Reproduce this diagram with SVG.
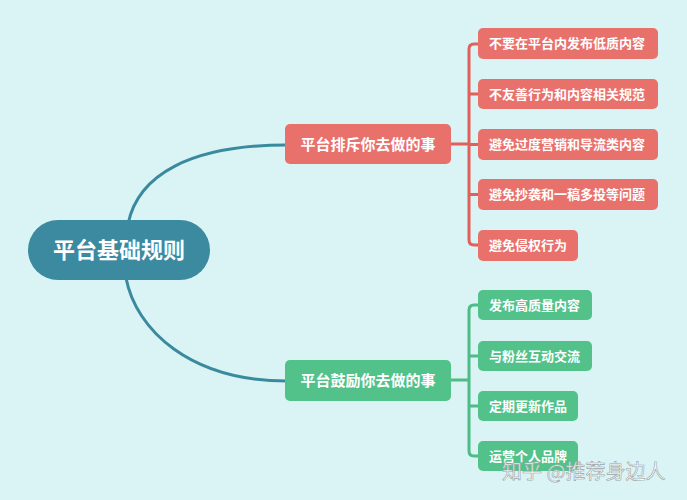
<svg xmlns="http://www.w3.org/2000/svg" width="687" height="500" viewBox="0 0 687 500">
<style>
text{font-family:"Noto Sans CJK SC","Noto Sans",sans-serif;font-weight:bold;fill:#fff}
.root{font-size:22px}
.p{font-size:15px}
.c{font-size:13px}
.red{fill:#e9716c}
.grn{fill:#52c28a}
.lr{fill:none;stroke:#e35f5a;stroke-width:3;stroke-linejoin:round}
.lg{fill:none;stroke:#4dbc86;stroke-width:3;stroke-linejoin:round}
.lt{fill:none;stroke:#3a8a9e;stroke-width:3}
.wm{font-size:20px;font-weight:normal;fill:#ffffff;fill-opacity:0.85;stroke:#9aa4a8;stroke-width:0.6}
</style>
<rect width="687" height="500" fill="#daf3f5"/>
<g id="connectors">
<path class="lt" d="M128 224 C138 175,190 145,287 145"/>
<path class="lt" d="M126 278 C136 330,190 381,287 381"/>
<path class="lr" d="M451 144 H469 M479 44 H474 Q469 44 469 49 V240 Q469 245 474 245 H479 M469 94 H479 M469 144.5 H479 M469 194.5 H479"/>
<path class="lg" d="M451 380 H469 M479 305 H474 Q469 305 469 310 V451 Q469 456 474 456 H479 M469 356 H479 M469 406 H479"/>
</g>
<g id="root">
<rect x="28" y="220" width="182" height="60" rx="30" fill="#3b8a9f"/>
<text class="root" x="119" y="258" text-anchor="middle">平台基础规则</text>
</g>
<g id="reject">
<rect class="red" x="285" y="124" width="166" height="40" rx="5"/>
<text class="p" x="368" y="150" text-anchor="middle">平台排斥你去做的事</text>
</g>
<g id="r1"><rect class="red" x="478" y="28" width="180" height="31" rx="5"/><text class="c" x="489" y="48">不要在平台内发布低质内容</text></g>
<g id="r2"><rect class="red" x="478" y="79" width="180" height="30" rx="5"/><text class="c" x="489" y="98.5">不友善行为和内容相关规范</text></g>
<g id="r3"><rect class="red" x="478" y="129" width="180" height="31" rx="5"/><text class="c" x="489" y="149">避免过度营销和导流类内容</text></g>
<g id="r4"><rect class="red" x="478" y="179" width="180" height="31" rx="5"/><text class="c" x="489" y="199">避免抄袭和一稿多投等问题</text></g>
<g id="r5"><rect class="red" x="478" y="230" width="100" height="31" rx="5"/><text class="c" x="489" y="250">避免侵权行为</text></g>
<g id="encourage">
<rect class="grn" x="285" y="360" width="166" height="41" rx="5"/>
<text class="p" x="368" y="386" text-anchor="middle">平台鼓励你去做的事</text>
</g>
<g id="g1"><rect class="grn" x="478" y="290" width="114" height="30" rx="5"/><text class="c" x="489" y="309.5">发布高质量内容</text></g>
<g id="g2"><rect class="grn" x="478" y="341" width="114" height="30" rx="5"/><text class="c" x="489" y="360.5">与粉丝互动交流</text></g>
<g id="g3"><rect class="grn" x="478" y="391" width="100" height="30" rx="5"/><text class="c" x="489" y="410.5">定期更新作品</text></g>
<g id="g4"><rect class="grn" x="478" y="441" width="100" height="30" rx="5"/><text class="c" x="489" y="460.5">运营个人品牌</text></g>
<text class="wm" x="502" y="479">知乎 @推荐身边人</text>
</svg>
